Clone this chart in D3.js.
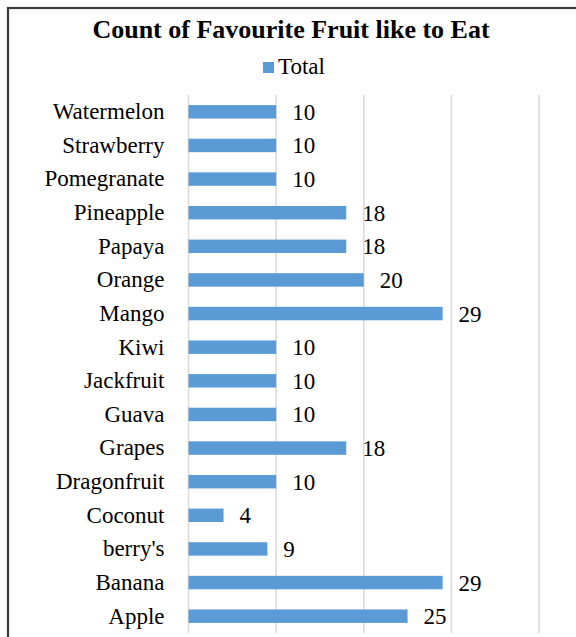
<!DOCTYPE html>
<html>
<head>
<meta charset="utf-8">
<script src="https://cdn.jsdelivr.net/npm/d3@7"></script>
<style>
  html, body { margin: 0; padding: 0; background: #fff; }
</style>
</head>
<body>
<div id="chart"></div>
<script>
// fruit names, listed top to bottom as they appear in the chart
const fruits = ["Watermelon", "Strawberry", "Pomegranate", "Pineapple", "Papaya", "Orange", "Mango",
    "Kiwi", "Jackfruit", "Guava", "Grapes", "Dragonfruit", "Coconut", "berry's", "Banana", "Apple"];
const totals = [10, 10, 10, 18, 18, 20, 29, 10, 10, 10, 18, 10, 4, 9, 29, 25];
const xTicks = [0, 10, 20, 30, 40];
const chartTitle = "Count of Favourite Fruit like to Eat";
const seriesName = "Total";

const width = 576, height = 637;
const margin = {top: 95, right: 37, bottom: 4, left: 188.5};
const barColour = "#5B9BD5";
const serif = "'Liberation Serif', Tinos, 'Times New Roman', Times, 'DejaVu Serif', serif";

const data = fruits.map((f, i) => ({fruit: f, total: totals[i]}));

const svg = d3.select("#chart")
    .append("svg")
    .attr("width", width)
    .attr("height", height)
    .attr("font-family", serif);

// outer frame (right and bottom are cut off in the original)
svg.append("rect")
    .attr("x", 8).attr("y", 8)
    .attr("width", 700).attr("height", 700)
    .attr("fill", "none")
    .attr("stroke", "#3a3a3a")
    .attr("stroke-width", 2.2);

const x = d3.scaleLinear()
    .domain([0, 40])
    .range([margin.left, width - margin.right]);

const y = d3.scaleBand()
    .domain(fruits)
    .range([margin.top, height - margin.bottom])
    .paddingInner(0.6)
    .paddingOuter(0.3);

// gridlines
svg.append("g")
    .selectAll("line")
    .data(xTicks)
    .join("line")
    .attr("x1", d => x(d)).attr("x2", d => x(d))
    .attr("y1", margin.top).attr("y2", height - margin.bottom)
    .attr("stroke", "#d9d9d9")
    .attr("stroke-width", 1.5);

// bars
svg.append("g")
    .selectAll("rect")
    .data(data)
    .join("rect")
    .attr("x", x(0))
    .attr("y", d => y(d.fruit))
    .attr("width", d => x(d.total) - x(0))
    .attr("height", y.bandwidth())
    .attr("fill", barColour);

// value labels
svg.append("g")
    .selectAll("text")
    .data(data)
    .join("text")
    .attr("x", d => x(d.total) + 16)
    .attr("y", d => y(d.fruit) + y.bandwidth() / 2)
    .attr("dy", "0.35em")
    .attr("font-family", serif)
    .attr("font-size", 23)
    .text(d => d.total);

// category axis
const yAxis = svg.append("g")
    .attr("transform", `translate(${margin.left - 24},0)`)
    .call(d3.axisLeft(y).tickSize(0).tickPadding(0))
    .attr("font-family", serif)
    .attr("font-size", 23);
yAxis.select(".domain").remove();
yAxis.selectAll("text").attr("fill", "#000");

// title
svg.append("text")
    .attr("x", 291)
    .attr("y", 38)
    .attr("text-anchor", "middle")
    .attr("font-family", serif)
    .attr("font-size", 26)
    .attr("font-weight", "bold")
    .text(chartTitle);

// legend
const legend = svg.append("g").attr("transform", "translate(263,60)");
legend.append("rect")
    .attr("width", 11).attr("height", 11)
    .attr("y", 2)
    .attr("fill", barColour);
legend.append("text")
    .attr("x", 15)
    .attr("y", 14)
    .attr("font-family", serif)
    .attr("font-size", 23)
    .text(seriesName);
</script>
</body>
</html>
